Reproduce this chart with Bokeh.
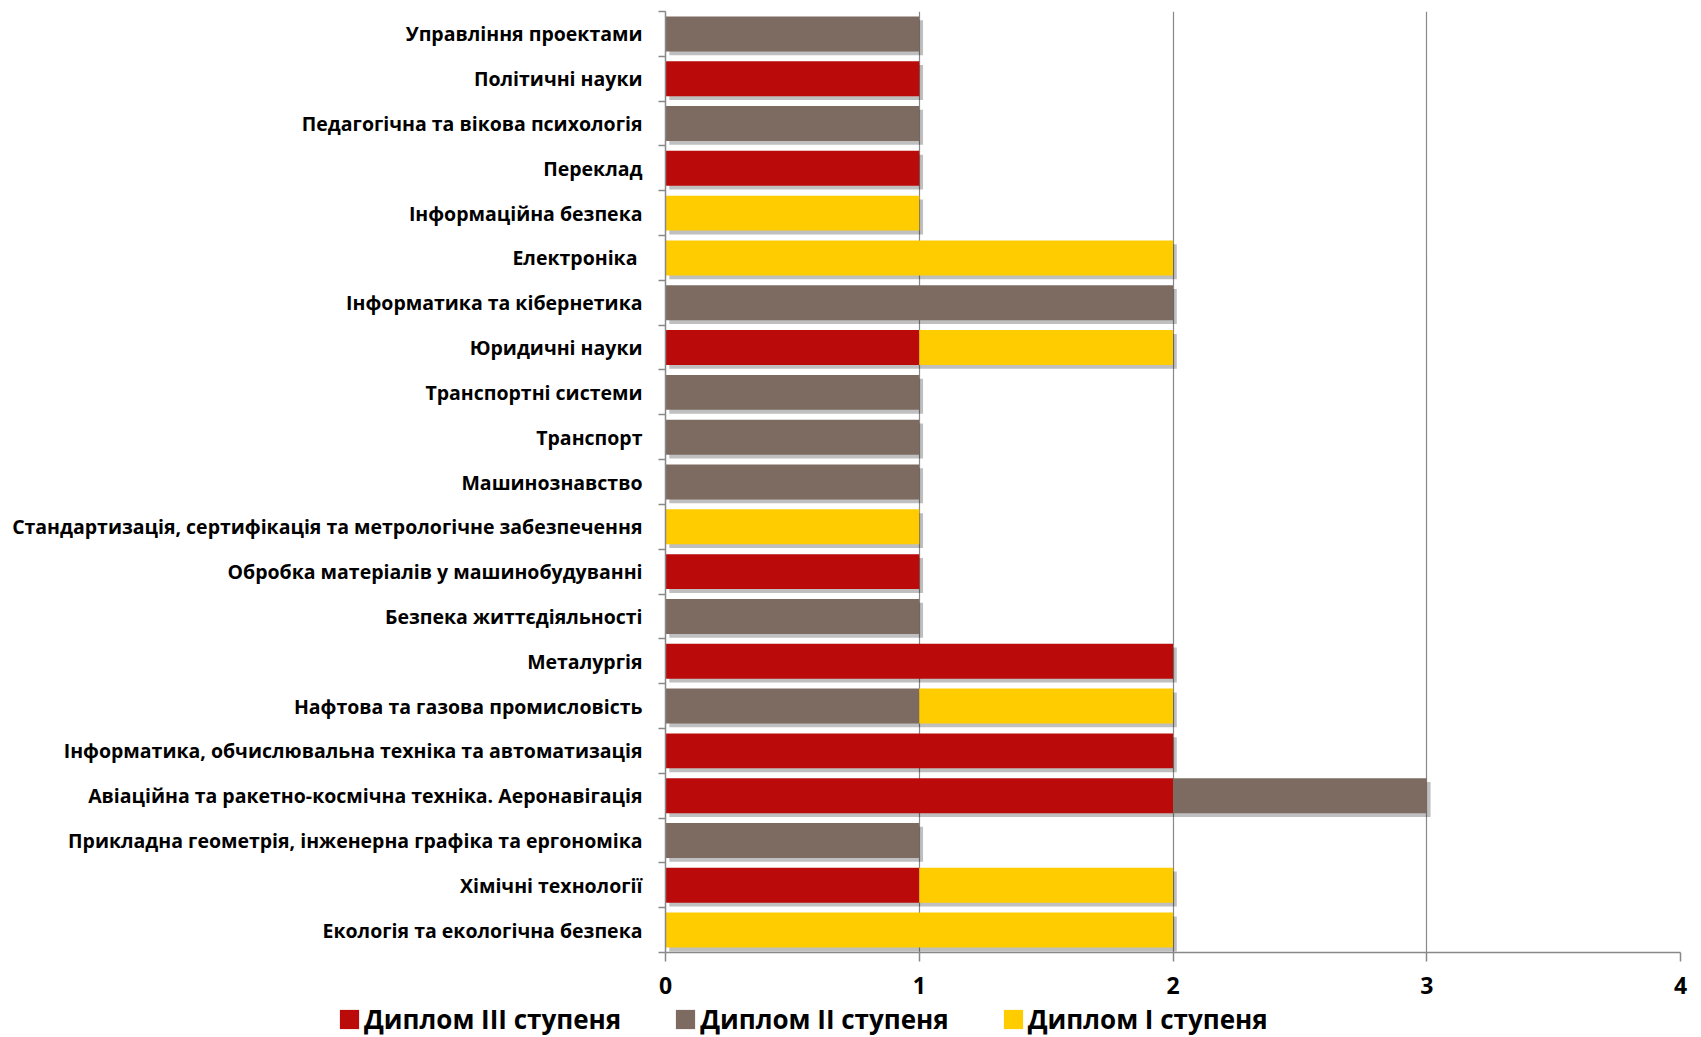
from bokeh.plotting import figure
from bokeh.models import (Range1d, FixedTicker, Legend, LegendItem, ColumnDataSource)
from bokeh.layouts import column, row
from bokeh.embed import file_html
from bokeh.resources import INLINE

# Categories listed bottom -> top
categories = [
    "Екологія та екологічна безпека",
    "Хімічні технології",
    "Прикладна геометрія, інженерна графіка та ергономіка",
    "Авіаційна та ракетно-космічна техніка. Аеронавігація",
    "Інформатика, обчислювальна техніка та автоматизація",
    "Нафтова та газова промисловість",
    "Металургія",
    "Безпека життєдіяльності",
    "Обробка матеріалів у машинобудуванні",
    "Стандартизація, сертифікація та метрологічне забезпечення",
    "Машинознавство",
    "Транспорт",
    "Транспортні системи",
    "Юридичні науки",
    "Інформатика та кібернетика",
    "Електроніка ",
    "Інформаційна безпека",
    "Переклад",
    "Педагогічна та вікова психологія",
    "Політичні науки",
    "Управління проектами",
]
diploma_3 = [0, 1, 0, 2, 2, 0, 2, 0, 1, 0, 0, 0, 0, 1, 0, 0, 0, 1, 0, 1, 0]
diploma_2 = [0, 0, 1, 1, 0, 1, 0, 1, 0, 0, 1, 1, 1, 0, 2, 0, 0, 0, 1, 0, 1]
diploma_1 = [2, 1, 0, 0, 0, 1, 0, 0, 0, 1, 0, 0, 0, 1, 0, 2, 1, 0, 0, 0, 0]
series_names = ["Диплом III ступеня", "Диплом II ступеня", "Диплом I ступеня"]
x_ticks = [0, 1, 2, 3, 4]

colors = ["#BA0A0A", "#7D6B61", "#FFCC00"]
FONT = "Open Sans"

n = len(categories)
ypos = list(range(n))
s1 = diploma_3
s2 = [a + b for a, b in zip(diploma_3, diploma_2)]
s3 = [a + b + c for a, b, c in zip(diploma_3, diploma_2, diploma_1)]

p = figure(width=1701, height=1000, output_backend="svg", toolbar_location=None,
           x_range=Range1d(0, 4), y_range=Range1d(-0.5, n - 0.5),
           min_border_left=665, min_border_right=21, min_border_top=11,
           min_border_bottom=48)
p.outline_line_color = None
p.background_fill_color = "white"

H = 0.78
# drop shadow
dx, dy = 0.015, 0.085
shadow = ColumnDataSource(dict(y=[v - dy for v in ypos], left=[dx] * n,
                               right=[t + dx for t in s3]))
p.hbar(y="y", left="left", right="right", height=H, source=shadow,
       fill_color="#000000", fill_alpha=0.25, line_color=None)

src = ColumnDataSource(dict(y=ypos, z=[0] * n, s1=s1, s2=s2, s3=s3))
bar_kw = dict(y="y", height=H, source=src, line_color=None)
p.hbar(left="z", right="s1", fill_color=colors[0], **bar_kw)
p.hbar(left="s1", right="s2", fill_color=colors[1], **bar_kw)
p.hbar(left="s2", right="s3", fill_color=colors[2], **bar_kw)

# grid
p.ygrid.grid_line_color = None
p.xgrid.grid_line_color = "#888888"
p.xgrid.grid_line_width = 1.2
p.xgrid.ticker = FixedTicker(ticks=x_ticks)

# x axis
xa = p.xaxis[0]
xa.ticker = FixedTicker(ticks=x_ticks)
xa.axis_line_color = "#888888"
xa.axis_line_width = 1.5
xa.major_tick_line_color = "#888888"
xa.major_tick_line_width = 1.5
xa.major_tick_out = 9
xa.major_tick_in = 0
xa.minor_tick_line_color = None
xa.major_label_standoff = 15
xa.major_label_text_font = FONT
xa.major_label_text_font_style = "bold"
xa.major_label_text_font_size = "23px"
xa.major_label_text_color = "black"

# y axis
ya = p.yaxis[0]
ya.ticker = FixedTicker(ticks=ypos, minor_ticks=[v - 0.5 for v in range(n + 1)])
ya.major_label_overrides = {i: c for i, c in enumerate(categories)}
ya.axis_line_color = "#888888"
ya.axis_line_width = 1.5
ya.major_tick_line_color = None
ya.major_tick_out = 0
ya.major_tick_in = 0
ya.minor_tick_line_color = "#888888"
ya.minor_tick_line_width = 1.5
ya.minor_tick_out = 7
ya.minor_tick_in = 0
ya.major_label_standoff = 16
ya.major_label_text_font = FONT
ya.major_label_text_font_style = "bold"
ya.major_label_text_font_size = "19.5px"
ya.major_label_text_color = "black"

# legend strip: hidden bars from the same data supply the legend swatches
pl = figure(width=1701, height=37, output_backend="svg", toolbar_location=None,
            x_range=Range1d(0, 4), y_range=Range1d(-0.5, n - 0.5),
            x_axis_location=None, y_axis_location=None,
            min_border_left=0, min_border_right=0, min_border_top=0, min_border_bottom=0)
pl.outline_line_color = None
pl.grid.grid_line_color = None
lr = [pl.hbar(left=l, right=r, fill_color=c, visible=False, **bar_kw)
      for l, r, c in zip(["z", "s1", "s2"], ["s1", "s2", "s3"], colors)]
legend = Legend(items=[LegendItem(label=nm, renderers=[r]) for nm, r in zip(series_names, lr)],
                orientation="horizontal", location=(337, 0),
                label_text_font=FONT, label_text_font_style="bold",
                label_text_font_size="26px", label_text_color="black",
                glyph_width=24, glyph_height=24, label_standoff=3,
                spacing=52, padding=0, margin=0, border_line_color=None,
                background_fill_alpha=0)
pl.add_layout(legend, "center")

open("out.html", "w").write(file_html(column(p, row(pl), spacing=0), INLINE))
